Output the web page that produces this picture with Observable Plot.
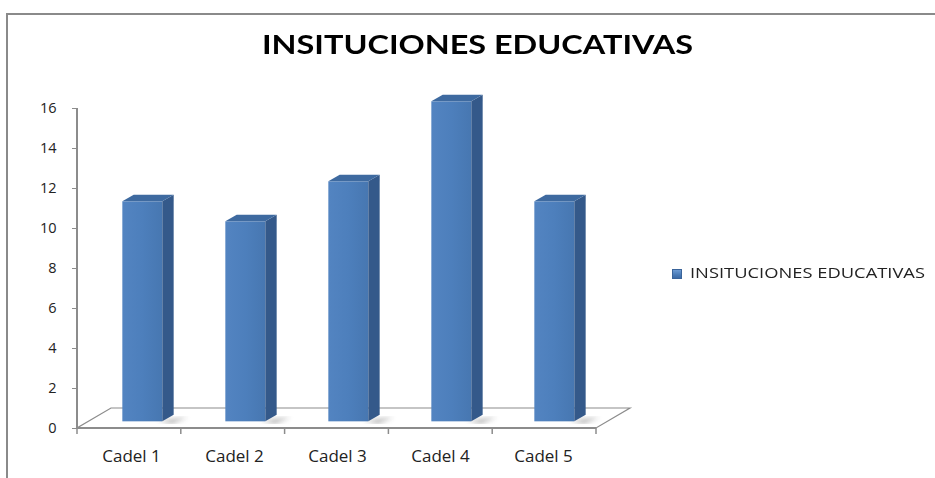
<!DOCTYPE html>
<html>
<head>
<meta charset="utf-8">
<script src="https://cdn.jsdelivr.net/npm/d3@7"></script>
<script src="https://cdn.jsdelivr.net/npm/@observablehq/plot@0.6"></script>
<style>
  html, body { margin: 0; padding: 0; background: #fff; }
  #wrap { position: relative; width: 935px; height: 478px; overflow: hidden; background: #fff; }
  #border { position: absolute; left: 6px; top: 13px; width: 960px; height: 500px;
            border-left: 2px solid #8a8a8a; border-top: 2px solid #8a8a8a; box-sizing: border-box; }
  #chart { position: absolute; left: 0; top: 0; }
  #title { position: absolute; left: 262px; top: 30px; font: bold 27px/27px Lato, sans-serif;
           color: #000; white-space: nowrap; transform-origin: 0 0; }
  #legend { position: absolute; left: 672px; top: 265px; white-space: nowrap; }
  #legend .sw { position: absolute; left: 0; top: 4px; width: 8px; height: 8px;
                background: linear-gradient(#6d9bd3, #4a7bb7 60%, #3c6aa5); border: 0.5px solid #3a649a; }
  #legend .lab { position: absolute; left: 18px; top: 0; font: 15px/15px "Open Sans", sans-serif;
                 color: #222; transform-origin: 0 0; }
</style>
</head>
<body>
<div id="wrap">
  <div id="border"></div>
  <div id="chart"></div>
  <div id="title"></div>
  <div id="legend"><div class="sw"></div><div class="lab"></div></div>
</div>
<script>
// ---- data ----
const categories = ["Cadel 1", "Cadel 2", "Cadel 3", "Cadel 4", "Cadel 5"];
const values = [11, 10, 12, 16, 11];
const yTicks = [0, 2, 4, 6, 8, 10, 12, 14, 16];
const titleText = "INSITUCIONES EDUCATIVAS";
const seriesName = "INSITUCIONES EDUCATIVAS";

const data = categories.map((c, i) => ({cat: c, value: values[i]}));

// 3D depth vector of the floor (px); bars sit in its middle third
const D = {x: 34, y: -20};
const F = {x: D.x / 3, y: D.y / 3};

const floorMark = (index, scales, vals, dims) => {
  const x0 = dims.marginLeft, x1 = dims.width - dims.marginRight;
  const yb = scales.y(0), yt = scales.y(yTicks[yTicks.length - 1]);
  const g = d3.create("svg:g");
  g.append("path")
    .attr("d", `M${x0},${yb}L${x1},${yb}L${x1 + D.x},${yb + D.y}L${x0 + D.x},${yb + D.y}Z`)
    .attr("fill", "#fff").attr("stroke", "#8c8c8c").attr("stroke-width", 1.2);
  g.append("line").attr("x1", x0).attr("x2", x0).attr("y1", yt).attr("y2", yb)
    .attr("stroke", "#8c8c8c").attr("stroke-width", 2);
  g.append("line").attr("x1", x0).attr("x2", x1).attr("y1", yb).attr("y2", yb)
    .attr("stroke", "#8c8c8c").attr("stroke-width", 2);
  const step = (x1 - x0) / categories.length;
  for (let i = 0; i <= categories.length; i++) {
    g.append("line").attr("x1", x0 + i * step).attr("x2", x0 + i * step)
      .attr("y1", yb).attr("y2", yb + 6).attr("stroke", "#8c8c8c").attr("stroke-width", 1.5);
  }
  return g.node();
};

function bars3d(index, scales, vals, dims, context, next) {
  const base = next(index, scales, vals, dims, context);
  const rects = Array.from(base.querySelectorAll("rect"));
  const g = d3.create("svg:g");
  const defs = g.append("defs");
  const grad = defs.append("linearGradient").attr("id", "frontGrad").attr("x1", 0).attr("x2", 1).attr("y1", 0).attr("y2", 0);
  grad.append("stop").attr("offset", "0%").attr("stop-color", "#5384c1");
  grad.append("stop").attr("offset", "50%").attr("stop-color", "#4d7fbc");
  grad.append("stop").attr("offset", "100%").attr("stop-color", "#4777b1");
  defs.append("filter").attr("id", "blur").append("feGaussianBlur").attr("stdDeviation", 2.5);
  for (const r of rects) {
    const x = +r.getAttribute("x") + F.x, w = +r.getAttribute("width");
    const y = +r.getAttribute("y") + F.y, h = +r.getAttribute("height");
    // shadow
    g.append("path")
      .attr("d", `M${x + w - 4},${y + h}L${x + w + D.x / 3 + 14},${y + h - 4}L${x + w + 10},${y + h + 2}Z`)
      .attr("fill", "#6a6a6a").attr("opacity", 0.6).attr("filter", "url(#blur)");
    // front
    g.append("rect").attr("x", x).attr("y", y).attr("width", w).attr("height", h)
      .attr("fill", "url(#frontGrad)");
    // side
    g.append("path")
      .attr("d", `M${x + w},${y}L${x + w + F.x},${y + F.y}L${x + w + F.x},${y + h + F.y}L${x + w},${y + h}Z`)
      .attr("fill", "#34598a");
    // top
    g.append("path")
      .attr("d", `M${x},${y}L${x + F.x},${y + F.y}L${x + w + F.x},${y + F.y}L${x + w},${y}Z`)
      .attr("fill", "#3e6aa0");
  }
  return g.node();
}

const plot = Plot.plot({
  width: 935,
  height: 478,
  marginLeft: 77,
  marginRight: 339,
  marginTop: 108,
  marginBottom: 50,
  style: {background: "transparent", color: "#222"},
  x: {type: "band", domain: categories, paddingInner: 0.615, paddingOuter: 0.3075, label: null},
  y: {domain: [0, 16], label: null},
  marks: [
    floorMark,
    Plot.barY(data, {x: "cat", y: "value", fill: "#4f81bd", render: bars3d}),
    Plot.axisY({ticks: yTicks, tickSize: 5, tickPadding: 16, stroke: "#8c8c8c", fill: "#222",
                fontSize: 14.5, fontFamily: "Open Sans", label: null}),
    Plot.axisX({tickSize: 0, tickPadding: 21, fill: "#222", fontSize: 17, fontFamily: "Open Sans", label: null})
  ]
});
document.getElementById("chart").appendChild(plot);

// title & legend (stretched to match the reference's wide lettering)
const t = document.getElementById("title");
t.textContent = titleText;
t.style.transform = `scaleX(${431 / t.getBoundingClientRect().width})`;
const lab = document.querySelector("#legend .lab");
lab.textContent = seriesName;
lab.style.transform = `scaleX(${235 / lab.getBoundingClientRect().width})`;
</script>
</body>
</html>
